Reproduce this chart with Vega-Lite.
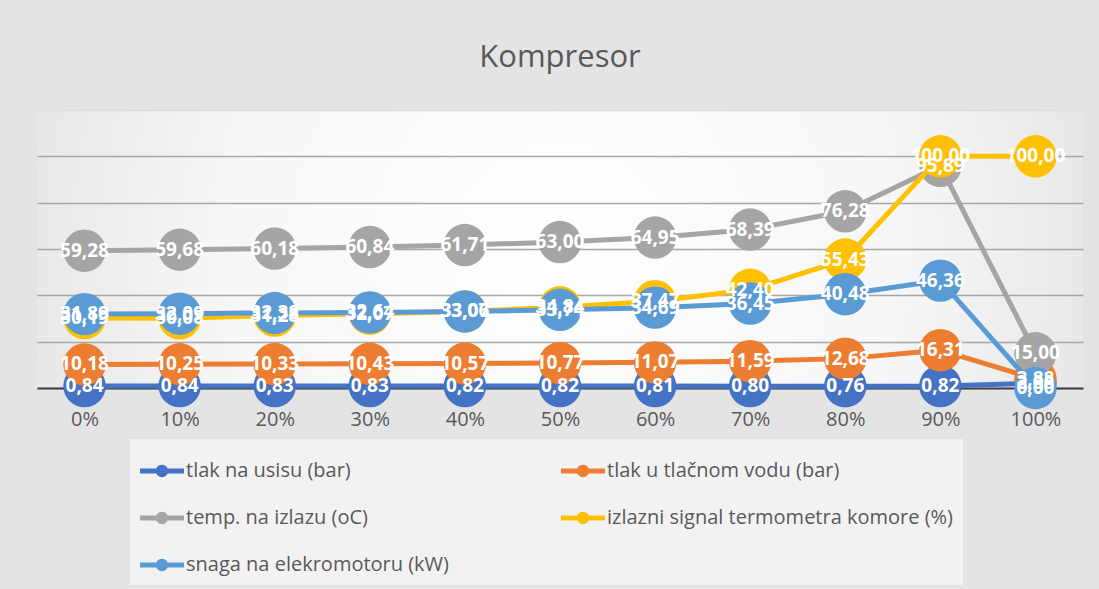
{
  "$schema": "https://vega.github.io/schema/vega-lite/v6.json",
  "autosize": {"type": "none"},
  "width": 1046,
  "height": 278,
  "padding": {"left": 37, "top": 110, "right": 16, "bottom": 201},
  "background": "#e4e4e4",
  "title": {"text": "Kompresor", "fontSize": 31, "font": "Open Sans", "fontWeight": "normal", "color": "#595959", "offset": 36, "anchor": "middle"},
  "config": {
    "locale": {"number": {"decimal": ",", "thousands": ".", "grouping": [3], "currency": ["", ""]}},
    "view": {"stroke": null, "fill": {"gradient": "radial", "x1": 0.5, "y1": 0.5, "x2": 0.5, "y2": 0.5, "r1": 0, "r2": 0.75, "stops": [{"offset": 0, "color": "#ffffff"}, {"offset": 0.45, "color": "#f6f6f6"}, {"offset": 1, "color": "#d4d4d4"}]}}
  },
  "data": {"values": [
    {"s": "tlak na usisu (bar)", "x": "0%", "v": 0.84},
    {"s": "tlak na usisu (bar)", "x": "10%", "v": 0.84},
    {"s": "tlak na usisu (bar)", "x": "20%", "v": 0.83},
    {"s": "tlak na usisu (bar)", "x": "30%", "v": 0.83},
    {"s": "tlak na usisu (bar)", "x": "40%", "v": 0.82},
    {"s": "tlak na usisu (bar)", "x": "50%", "v": 0.82},
    {"s": "tlak na usisu (bar)", "x": "60%", "v": 0.81},
    {"s": "tlak na usisu (bar)", "x": "70%", "v": 0.80},
    {"s": "tlak na usisu (bar)", "x": "80%", "v": 0.76},
    {"s": "tlak na usisu (bar)", "x": "90%", "v": 0.82},
    {"s": "tlak na usisu (bar)", "x": "100%", "v": 2.08},
    {"s": "tlak u tlačnom vodu (bar)", "x": "0%", "v": 10.18},
    {"s": "tlak u tlačnom vodu (bar)", "x": "10%", "v": 10.25},
    {"s": "tlak u tlačnom vodu (bar)", "x": "20%", "v": 10.33},
    {"s": "tlak u tlačnom vodu (bar)", "x": "30%", "v": 10.43},
    {"s": "tlak u tlačnom vodu (bar)", "x": "40%", "v": 10.57},
    {"s": "tlak u tlačnom vodu (bar)", "x": "50%", "v": 10.77},
    {"s": "tlak u tlačnom vodu (bar)", "x": "60%", "v": 11.07},
    {"s": "tlak u tlačnom vodu (bar)", "x": "70%", "v": 11.59},
    {"s": "tlak u tlačnom vodu (bar)", "x": "80%", "v": 12.68},
    {"s": "tlak u tlačnom vodu (bar)", "x": "90%", "v": 16.31},
    {"s": "tlak u tlačnom vodu (bar)", "x": "100%", "v": 3.88},
    {"s": "temp. na izlazu (oC)", "x": "0%", "v": 59.28},
    {"s": "temp. na izlazu (oC)", "x": "10%", "v": 59.68},
    {"s": "temp. na izlazu (oC)", "x": "20%", "v": 60.18},
    {"s": "temp. na izlazu (oC)", "x": "30%", "v": 60.84},
    {"s": "temp. na izlazu (oC)", "x": "40%", "v": 61.71},
    {"s": "temp. na izlazu (oC)", "x": "50%", "v": 63.00},
    {"s": "temp. na izlazu (oC)", "x": "60%", "v": 64.95},
    {"s": "temp. na izlazu (oC)", "x": "70%", "v": 68.39},
    {"s": "temp. na izlazu (oC)", "x": "80%", "v": 76.28},
    {"s": "temp. na izlazu (oC)", "x": "90%", "v": 95.89},
    {"s": "temp. na izlazu (oC)", "x": "100%", "v": 15.00},
    {"s": "izlazni signal termometra komore (%)", "x": "0%", "v": 30.19},
    {"s": "izlazni signal termometra komore (%)", "x": "10%", "v": 30.08},
    {"s": "izlazni signal termometra komore (%)", "x": "20%", "v": 31.28},
    {"s": "izlazni signal termometra komore (%)", "x": "30%", "v": 32.07},
    {"s": "izlazni signal termometra komore (%)", "x": "40%", "v": 33.07},
    {"s": "izlazni signal termometra komore (%)", "x": "50%", "v": 34.84},
    {"s": "izlazni signal termometra komore (%)", "x": "60%", "v": 37.47},
    {"s": "izlazni signal termometra komore (%)", "x": "70%", "v": 42.40},
    {"s": "izlazni signal termometra komore (%)", "x": "80%", "v": 55.43},
    {"s": "izlazni signal termometra komore (%)", "x": "90%", "v": 100.00},
    {"s": "izlazni signal termometra komore (%)", "x": "100%", "v": 100.00},
    {"s": "snaga na elekromotoru (kW)", "x": "0%", "v": 31.89},
    {"s": "snaga na elekromotoru (kW)", "x": "10%", "v": 32.09},
    {"s": "snaga na elekromotoru (kW)", "x": "20%", "v": 32.38},
    {"s": "snaga na elekromotoru (kW)", "x": "30%", "v": 32.64},
    {"s": "snaga na elekromotoru (kW)", "x": "40%", "v": 33.06},
    {"s": "snaga na elekromotoru (kW)", "x": "50%", "v": 33.74},
    {"s": "snaga na elekromotoru (kW)", "x": "60%", "v": 34.69},
    {"s": "snaga na elekromotoru (kW)", "x": "70%", "v": 36.45},
    {"s": "snaga na elekromotoru (kW)", "x": "80%", "v": 40.48},
    {"s": "snaga na elekromotoru (kW)", "x": "90%", "v": 46.36},
    {"s": "snaga na elekromotoru (kW)", "x": "100%", "v": 0.00}
  ]},
  "encoding": {
    "x": {"field": "x", "type": "ordinal", "sort": null, "scale": {"type": "point", "padding": 0.5},
      "axis": {"title": null, "labelAngle": 0, "labelFont": "Open Sans", "labelFontSize": 20, "labelColor": "#595959", "ticks": false, "labelPadding": 21, "domainColor": "#404040", "domainWidth": 2, "grid": false}},
    "y": {"field": "v", "type": "quantitative", "scale": {"domain": [0, 120]},
      "axis": {"title": null, "values": [0, 20, 40, 60, 80, 100, 120], "labels": false, "ticks": false, "domain": false, "grid": true,
        "gridColor": {"condition": {"test": "datum.value === 120", "value": "#dedede"}, "value": "#a6a6a6"}, "gridWidth": 1.3}},
    "color": {"field": "s", "type": "nominal",
      "scale": {"domain": ["tlak na usisu (bar)", "temp. na izlazu (oC)", "snaga na elekromotoru (kW)", "tlak u tlačnom vodu (bar)", "izlazni signal termometra komore (%)"], "range": ["#4472C4", "#A5A5A5", "#5B9BD5", "#ED7D31", "#FFC000"]},
      "legend": {"title": null, "orient": "none", "legendX": 93, "legendY": 329, "columns": 2, "columnPadding": 112, "rowPadding": 15,
        "symbolType": "M-1,-0.11L1,-0.11L1,0.11L-1,0.11Z M-0.28,0A0.28,0.28 0 1,1 0.28,0A0.28,0.28 0 1,1 -0.28,0Z",
        "symbolSize": 1936, "symbolStrokeWidth": 0, "labelFont": "Open Sans", "labelFontSize": 20, "labelColor": "#595959", "labelOffset": 2, "labelLimit": 600,
        "fillColor": "#f2f2f2", "padding": 10,
        "encode": {"symbols": {"update": {"fill": {"scale": "color", "field": "value"}, "stroke": {"value": "transparent"}, "opacity": {"value": 1}}}}}}
  },
  "layer": [
    {"transform": [{"filter": "datum.s === 'tlak na usisu (bar)'"}], "mark": {"type": "line", "strokeWidth": 5, "strokeCap": "round", "strokeJoin": "round"}},
    {"transform": [{"filter": "datum.s === 'tlak na usisu (bar)'"}], "mark": {"type": "point", "filled": true, "size": 1800, "opacity": 1, "shape": "circle"}},
    {"transform": [{"filter": "datum.s === 'tlak u tlačnom vodu (bar)'"}], "mark": {"type": "line", "strokeWidth": 5, "strokeCap": "round", "strokeJoin": "round"}},
    {"transform": [{"filter": "datum.s === 'tlak u tlačnom vodu (bar)'"}], "mark": {"type": "point", "filled": true, "size": 1800, "opacity": 1, "shape": "circle"}},
    {"transform": [{"filter": "datum.s === 'temp. na izlazu (oC)'"}], "mark": {"type": "line", "strokeWidth": 5, "strokeCap": "round", "strokeJoin": "round"}},
    {"transform": [{"filter": "datum.s === 'temp. na izlazu (oC)'"}], "mark": {"type": "point", "filled": true, "size": 1800, "opacity": 1, "shape": "circle"}},
    {"transform": [{"filter": "datum.s === 'izlazni signal termometra komore (%)'"}], "mark": {"type": "line", "strokeWidth": 5, "strokeCap": "round", "strokeJoin": "round"}},
    {"transform": [{"filter": "datum.s === 'izlazni signal termometra komore (%)'"}], "mark": {"type": "point", "filled": true, "size": 1800, "opacity": 1, "shape": "circle"}},
    {"transform": [{"filter": "datum.s === 'snaga na elekromotoru (kW)'"}], "mark": {"type": "line", "strokeWidth": 5, "strokeCap": "round", "strokeJoin": "round"}},
    {"transform": [{"filter": "datum.s === 'snaga na elekromotoru (kW)'"}], "mark": {"type": "point", "filled": true, "size": 1800, "opacity": 1, "shape": "circle"}},
    {"mark": {"type": "text", "font": "Open Sans", "fontSize": 19, "fontWeight": "bold", "align": "center", "baseline": "middle"},
      "encoding": {"text": {"field": "v", "type": "quantitative", "format": ".2f"}, "color": {"value": "white"}}}
  ]
}
